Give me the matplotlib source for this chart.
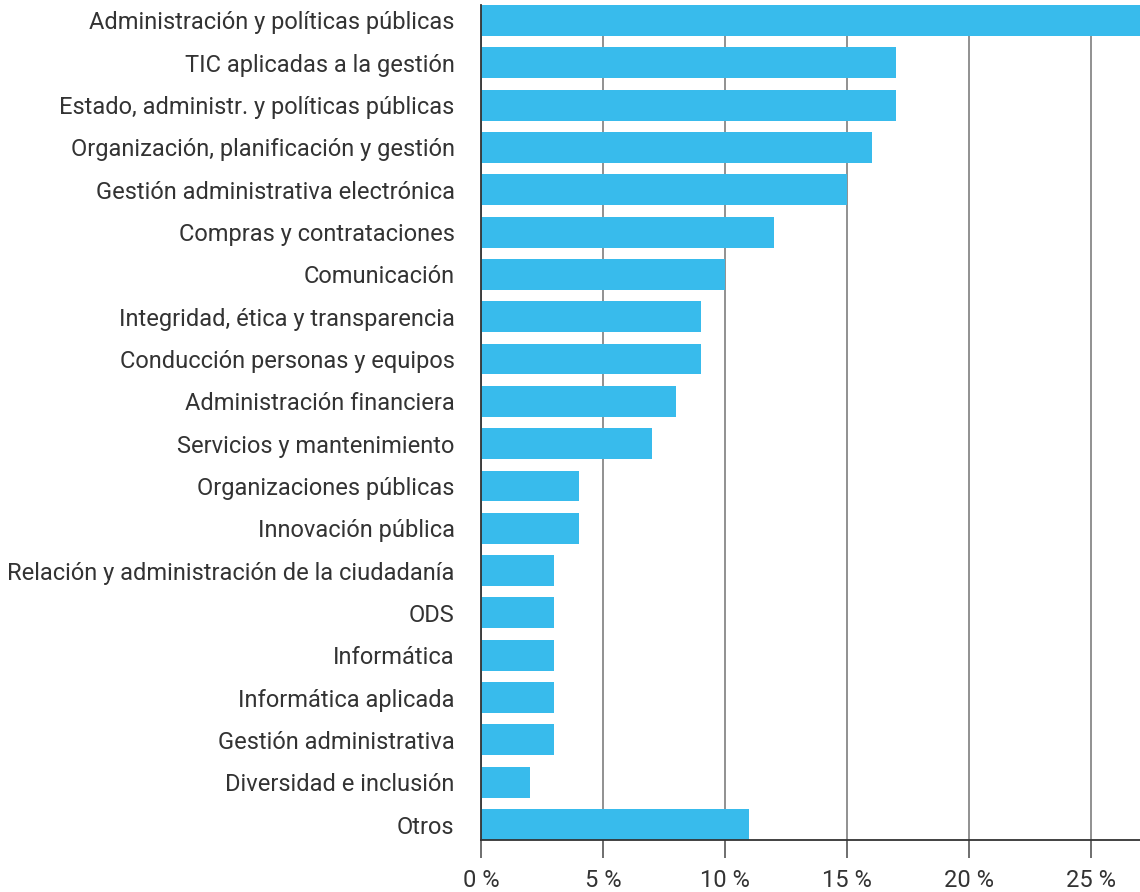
import matplotlib.pyplot as plt
from matplotlib.ticker import FuncFormatter

plt.rcParams['font.family'] = ['Roboto', 'DejaVu Sans']

categories = [
    'Administración y políticas públicas',
    'TIC aplicadas a la gestión',
    'Estado, administr. y políticas públicas',
    'Organización, planificación y gestión',
    'Gestión administrativa electrónica',
    'Compras y contrataciones',
    'Comunicación',
    'Integridad, ética y transparencia',
    'Conducción personas y equipos',
    'Administración financiera',
    'Servicios y mantenimiento',
    'Organizaciones públicas',
    'Innovación pública',
    'Relación y administración de la ciudadanía',
    'ODS',
    'Informática',
    'Informática aplicada',
    'Gestión administrativa',
    'Diversidad e inclusión',
    'Otros',
]
values = [28, 17, 17, 16, 15, 12, 10, 9, 9, 8, 7, 4, 4, 3, 3, 3, 3, 3, 2, 11]
xticks = [0, 5, 10, 15, 20, 25]

fig = plt.figure(figsize=(11.4, 8.92), dpi=100)
ax = fig.add_axes([481 / 1140, 1 - 840 / 892, 1 - 481 / 1140, 835 / 892])

h = 0.73
pos = list(range(len(categories)))
ax.barh(pos, values, height=h, color='#38BBEC', zorder=2)

ax.set_yticks(pos)
ax.set_yticklabels(categories, fontsize=17, color='#333333')
ax.set_ylim(len(categories) - 1 + h / 2, -h / 2)
ax.set_xlim(0, 27)
ax.set_xticks(xticks)
ax.xaxis.set_major_formatter(FuncFormatter(lambda v, p: f'{v:.0f} %'))

ax.tick_params(axis='y', length=0, pad=19)
ax.tick_params(axis='x', length=13, width=1.2, color='#555555', labelsize=17,
               labelcolor='#333333', pad=8)

ax.grid(axis='x', color='#888888', linewidth=1.3, zorder=0)
ax.set_axisbelow(True)

for s in ['top', 'right']:
    ax.spines[s].set_visible(False)
for s in ['left', 'bottom']:
    ax.spines[s].set_color('#333333')
    ax.spines[s].set_linewidth(1.3)
    ax.spines[s].set_zorder(3)

fig.savefig('out.png', dpi=100)
